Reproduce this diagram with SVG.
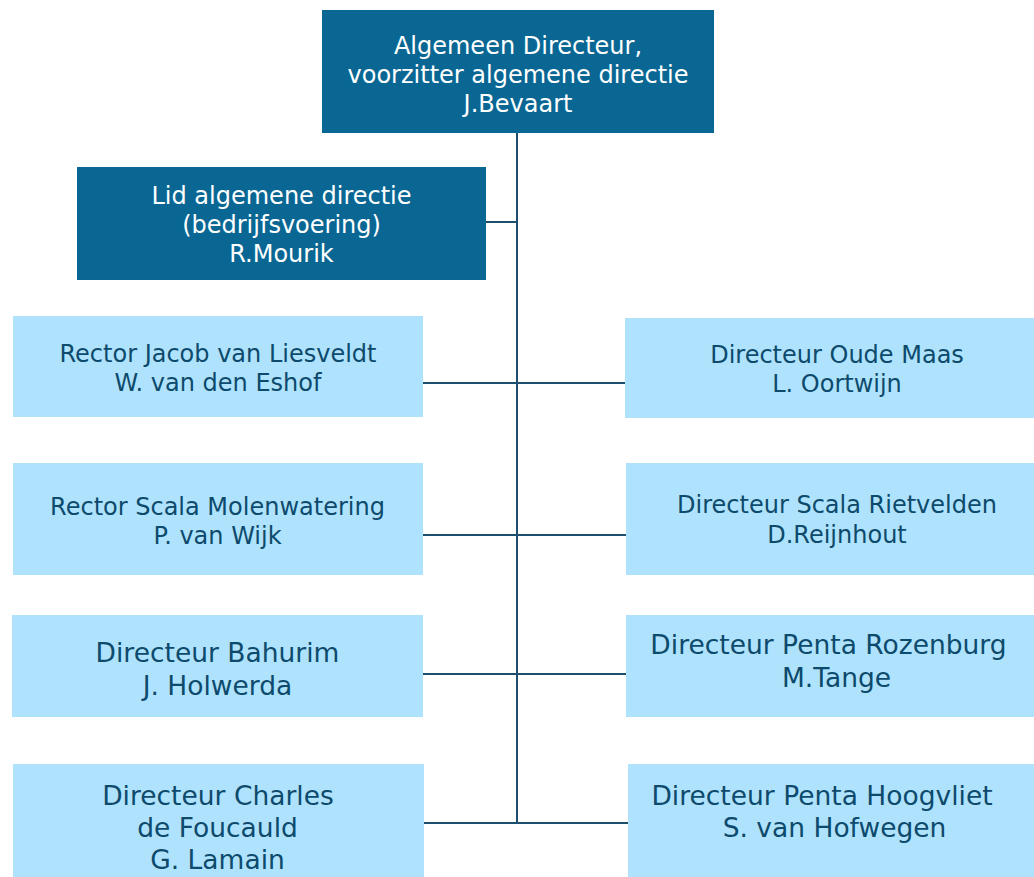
<svg xmlns="http://www.w3.org/2000/svg" width="1034" height="877" viewBox="0 0 1034 877">
<style>
.dark{fill:#0a6794}
.light{fill:#afe3fd}
text{font-family:"DejaVu Sans",Verdana,sans-serif;text-anchor:middle}
.tw{fill:#ffffff;font-size:24px}
.tb{fill:#0d4a6c;font-size:24px}
.tl{fill:#0d4a6c;font-size:26.5px}
.ln{stroke:#1d4e6b;stroke-width:2;fill:none}
</style>
<rect width="1034" height="877" fill="#ffffff"/>
<g id="connectors">
<path class="ln" d="M517 133V823M486 222H517M423 383H625M423 535H626M423 674H626M424 823H628"/>
</g>
<g id="n-top">
<rect class="dark" x="322" y="10" width="392" height="123"/>
<text class="tw" x="518" y="53.5">Algemeen Directeur,</text>
<text class="tw" x="518" y="82.5">voorzitter algemene directie</text>
<text class="tw" x="518" y="111.5">J.Bevaart</text>
</g>
<g id="n-lid">
<rect class="dark" x="77" y="167" width="409" height="113"/>
<text class="tw" x="281.5" y="204">Lid algemene directie</text>
<text class="tw" x="281.5" y="233">(bedrijfsvoering)</text>
<text class="tw" x="281.5" y="262">R.Mourik</text>
</g>
<g id="n-liesveldt">
<rect class="light" x="13" y="316" width="410" height="101"/>
<text class="tb" x="218" y="362">Rector Jacob van Liesveldt</text>
<text class="tb" x="218" y="391">W. van den Eshof</text>
</g>
<g id="n-oudemaas">
<rect class="light" x="625" y="318" width="409" height="100"/>
<text class="tb" x="837" y="363">Directeur Oude Maas</text>
<text class="tb" x="837" y="392">L. Oortwijn</text>
</g>
<g id="n-molenwatering">
<rect class="light" x="13" y="463" width="410" height="112"/>
<text class="tb" x="217.5" y="515">Rector Scala Molenwatering</text>
<text class="tb" x="217.5" y="544">P. van Wijk</text>
</g>
<g id="n-rietvelden">
<rect class="light" x="626" y="463" width="408" height="112"/>
<text class="tb" x="837" y="513">Directeur Scala Rietvelden</text>
<text class="tb" x="837" y="543">D.Reijnhout</text>
</g>
<g id="n-bahurim">
<rect class="light" x="12" y="615" width="411" height="102"/>
<text class="tl" x="217.5" y="662">Directeur Bahurim</text>
<text class="tl" x="217.5" y="695">J. Holwerda</text>
</g>
<g id="n-rozenburg">
<rect class="light" x="626" y="615" width="408" height="102"/>
<text class="tl" x="828.5" y="654">Directeur Penta Rozenburg</text>
<text class="tl" x="836.5" y="687">M.Tange</text>
</g>
<g id="n-foucauld">
<rect class="light" x="13" y="764" width="411" height="113"/>
<text class="tl" x="218" y="805">Directeur Charles</text>
<text class="tl" x="217.5" y="837">de Foucauld</text>
<text class="tl" x="217.5" y="869">G. Lamain</text>
</g>
<g id="n-hoogvliet">
<rect class="light" x="628" y="764" width="406" height="113"/>
<text class="tl" x="822" y="805">Directeur Penta Hoogvliet</text>
<text class="tl" x="834.5" y="837">S. van Hofwegen</text>
</g>
</svg>
